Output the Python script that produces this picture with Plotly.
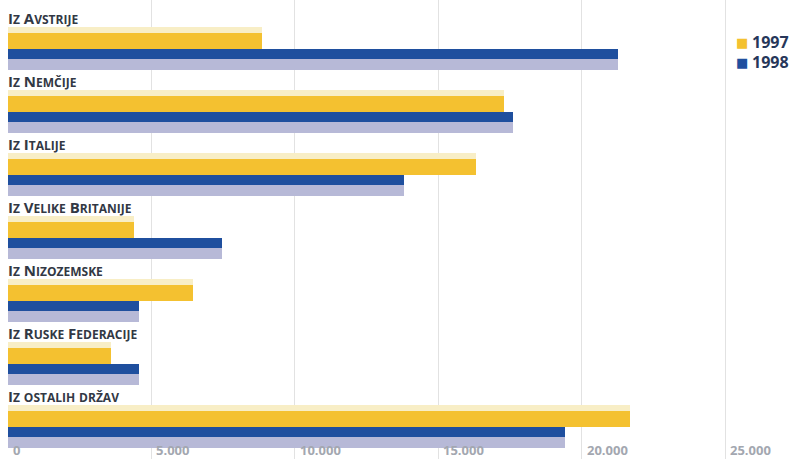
import plotly.graph_objects as go

categories = ["Iz Avstrije", "Iz Nemčije", "Iz Italije", "Iz Velike Britanije",
              "Iz Nizozemske", "Iz Ruske Federacije", "Iz ostalih držav"]
values_1997 = [8850, 17300, 16320, 4400, 6450, 3600, 21700]
values_1998 = [21270, 17610, 13810, 7450, 4570, 4570, 19420]
tick_vals = [0, 5000, 10000, 15000, 20000, 25000]
tick_labels = ["0", "5.000", "10.000", "15.000", "20.000", "25.000"]
series_names = ["1997", "1998"]

GOLD = "#f4c130"
PALE = "#f8eec6"
BLUE = "#1f4f9e"
LAV = "#b7b9d7"
LABEL_COL = "#323844"
TICK_COL = "#a3a7b0"

W, H = 790, 459
PITCH = 63.0
TOP = -0.6
idx = list(range(len(categories)))

def smallcaps(s, big=15, small=12):
    out = []
    for ch in s:
        if ch.islower():
            out.append(f"<span style='font-size:{small}px'>{ch.upper()}</span>")
        else:
            out.append(ch)
    return "<b>" + "".join(out) + "</b>"

fig = go.Figure()
yw = 0.35
bw = 0.333
y_yel = [i for i in idx]
y_gold = [i + yw * 0.15 for i in idx]
y_blue = [i + 0.344 for i in idx]
y_dark = [i + 0.344 - bw / 4 for i in idx]

fig.add_trace(go.Bar(x=values_1997, y=y_yel, orientation="h", width=yw,
                     marker=dict(color=PALE, line=dict(width=0)), showlegend=False, hoverinfo="x"))
fig.add_trace(go.Bar(x=values_1997, y=y_gold, orientation="h", width=yw * 0.7,
                     marker=dict(color=GOLD, line=dict(width=0)), showlegend=False, hoverinfo="x"))
fig.add_trace(go.Bar(x=values_1998, y=y_blue, orientation="h", width=bw,
                     marker=dict(color=LAV, line=dict(width=0)), showlegend=False, hoverinfo="x"))
fig.add_trace(go.Bar(x=values_1998, y=y_dark, orientation="h", width=bw / 2,
                     marker=dict(color=BLUE, line=dict(width=0)), showlegend=False, hoverinfo="x"))

annotations = []
for i, c in enumerate(categories):
    annotations.append(dict(x=0, y=i - 0.32, xref="x", yref="y", text=smallcaps(c),
                            showarrow=False, xanchor="left", yanchor="middle", xshift=-2,
                            font=dict(family="Open Sans", size=15, color=LABEL_COL)))
for v, t in zip(tick_vals, tick_labels):
    annotations.append(dict(x=v, y=(H - 450) / H, xref="x", yref="paper", text=f"<b>{t}</b>",
                            showarrow=False, xanchor="left", yanchor="middle", xshift=3,
                            font=dict(family="Open Sans", size=13, color=TICK_COL)))
for k, (name, col) in enumerate(zip(series_names, [GOLD, BLUE])):
    yk = 1 - (42 + 20 * k) / H
    annotations.append(dict(x=733 / W, y=yk, xref="paper", yref="paper", text="■",
                            showarrow=False, xanchor="left", yanchor="middle",
                            font=dict(family="DejaVu Sans", size=13, color=col)))
    annotations.append(dict(x=750 / W, y=yk, xref="paper", yref="paper", text=f"<b>{name}</b>",
                            showarrow=False, xanchor="left", yanchor="middle",
                            font=dict(family="Open Sans", size=16, color="#27375a")))

x_max = 25000 * (W - 8) / (725 - 8)
fig.update_layout(
    width=W, height=H, margin=dict(l=8, r=0, t=0, b=0),
    paper_bgcolor="white", plot_bgcolor="white",
    barmode="overlay", bargap=0,
    xaxis=dict(range=[0, x_max], tickvals=tick_vals, showticklabels=False,
               showgrid=True, gridcolor="#e2e2e2", gridwidth=1, zeroline=False,
               showline=False, ticks=""),
    yaxis=dict(range=[TOP + H / PITCH, TOP], showticklabels=False, showgrid=False,
               zeroline=False, showline=False, ticks=""),
    annotations=annotations,
    showlegend=False,
)
fig.write_html("out.html")
